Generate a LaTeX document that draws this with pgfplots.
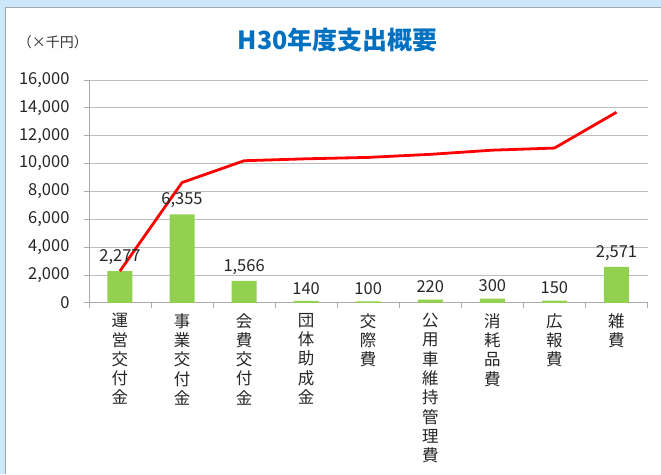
\documentclass[border=0pt]{standalone}
\usepackage{fontspec}
\setmainfont{Noto Sans CJK JP}
\usepackage{pgfplots}
\pgfplotsset{compat=1.18}
\definecolor{bargreen}{RGB}{146,208,80}
\definecolor{titleblue}{RGB}{0,112,192}
\definecolor{frameblue}{RGB}{204,232,250}
\definecolor{gridgray}{RGB}{190,190,190}
\definecolor{axgray}{RGB}{170,170,170}
\begin{document}
\begin{tikzpicture}[x=1pt,y=1pt]
\fill[frameblue] (-89,-171) rectangle (572,303);
\fill[white] (-83,-171) rectangle (572,295);
\draw[gray!70,line width=1pt] (-83.5,-171) -- (-83.5,295.5) -- (572,295.5);
\node[font=\fontsize{25}{28}\selectfont\bfseries, text=titleblue] at (249,263) {H30年度支出概要};
\node[font=\fontsize{14}{16}\selectfont, text=black!80] at (-36,261) {（×千円）};
\begin{axis}[
  at={(0,0)}, anchor=south west,
  width=559pt, height=223pt, scale only axis,
  xmin=-0.5, xmax=8.5, ymin=0, ymax=16000,
  axis x line*=bottom, axis y line*=left,
  axis line style={axgray, line width=0.8pt},
  ymajorgrids, grid style={gridgray, line width=0.8pt},
  ytick={0,2000,...,16000},
  tick align=outside, major tick length=5pt, minor tick length=5pt,
  ytick style={axgray, line width=0.8pt},
  xtick={0,...,8},
  major x tick style={draw=none},
  minor xtick={-0.5,0.5,...,8.5},
  minor x tick style={axgray, line width=0.8pt},
  xticklabels={{運\\営\\交\\付\\金},{事\\業\\交\\付\\金},{会\\費\\交\\付\\金},{団\\体\\助\\成\\金},{交\\際\\費},{公\\用\\車\\維\\持\\管\\理\\費},{消\\耗\\品\\費},{広\\報\\費},{雑\\費}},
  xticklabel style={align=center, anchor=north, font=\fontsize{16.5}{19.3}\selectfont, text=black!85, yshift=-2pt},
  yticklabel style={font=\fontsize{16.5}{19}\selectfont, text=black!85, xshift=-11pt},
  /pgf/number format/assume math mode=true,
  /pgf/number format/.cd, 1000 sep={,}, /pgfplots/.cd,
  scaled y ticks=false,
  clip=false,
]
\addplot[ybar, bar width=25pt, fill=bargreen, draw=none,
  nodes near coords, nodes near coords align={vertical},
  every node near coord/.append style={font=\fontsize{16.5}{19}\selectfont, text=black!85, yshift=3pt}]
  coordinates {(0,2277) (1,6355) (2,1566) (3,140) (4,100) (5,220) (6,300) (7,150) (8,2571)};
\addplot[red, line width=2.8pt, no markers]
  coordinates {(0,2277) (1,8632) (2,10198) (3,10338) (4,10438) (5,10658) (6,10958) (7,11108) (8,13679)};
\end{axis}
\end{tikzpicture}
\end{document}
